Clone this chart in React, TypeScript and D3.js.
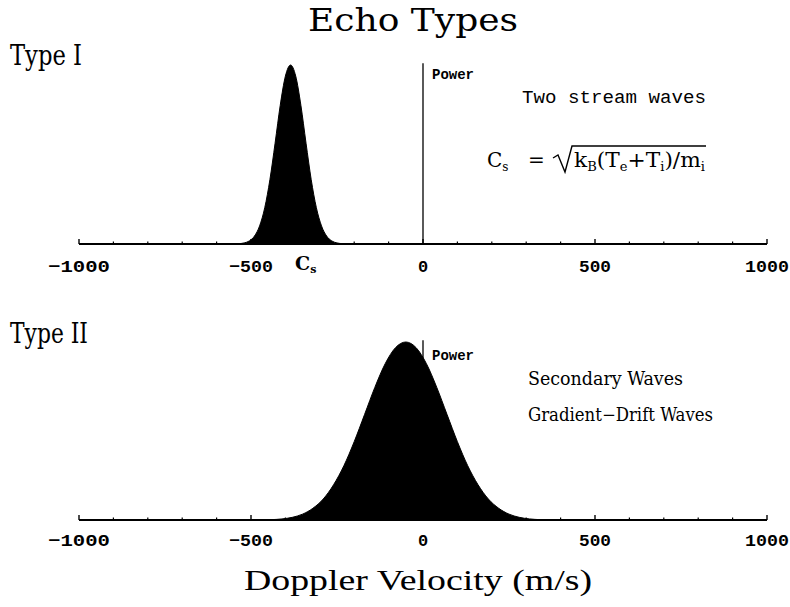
import React from 'react';
import * as d3 from 'd3';

// ---- Data ----
const typeIVelocity = [-535, -520, -505, -490, -475, -460, -445, -430, -415, -400, -385, -370, -355, -340, -325, -310, -295, -280, -265, -250, -235];
const typeIPower = [0.002, 0.006, 0.017, 0.044, 0.101, 0.203, 0.36, 0.563, 0.775, 0.938, 1.0, 0.938, 0.775, 0.563, 0.36, 0.203, 0.101, 0.044, 0.017, 0.006, 0.002];

const typeIIVelocity = [-440, -410, -380, -350, -320, -290, -260, -230, -200, -170, -140, -110, -80, -50, -20, 10, 40, 70, 100, 130, 160, 190, 220, 250, 280, 310, 340];
const typeIIPower = [0.002, 0.006, 0.015, 0.033, 0.066, 0.118, 0.198, 0.305, 0.44, 0.592, 0.745, 0.878, 0.968, 1.0, 0.968, 0.878, 0.745, 0.592, 0.44, 0.305, 0.198, 0.118, 0.066, 0.033, 0.015, 0.006, 0.002];

const majorTicks = [-1000, -500, 0, 500, 1000];
const tickLabels = ['\u22121000', '\u2212500', '0', '500', '1000'];
const tickLabelWidths = [62, 44, 0, 32, 44];
const minorTicks = [-900, -800, -700, -600, -400, -300, -200, -100, 100, 200, 300, 400, 600, 700, 800, 900];

const W = 790;
const H = 607;

const hershey = "'DejaVu Serif Condensed', 'DejaVu Serif', serif";
const mono = "'Liberation Mono', 'DejaVu Sans Mono', monospace";
const serif = "'DejaVu Serif', serif";

type PanelProps = {
  vel: number[];
  pow: number[];
  baseY: number;
  topY: number;
  labelY: number;
  powerLabelY: number;
};

function Panel({ vel, pow, baseY, topY, labelY, powerLabelY }: PanelProps) {
  const x = d3.scaleLinear().domain([-1000, 1000]).range([79, 767]);
  const y = d3.scaleLinear().domain([0, 1]).range([baseY, topY]);
  const pts = vel.map((v, i) => ({ v, p: pow[i] }));
  const area = d3
    .area<{ v: number; p: number }>()
    .x((d) => x(d.v))
    .y0(y(0))
    .y1((d) => y(d.p))
    .curve(d3.curveMonotoneX);
  return (
    <g>
      {/* power axis */}
      <line x1={x(0)} x2={x(0)} y1={y(0)} y2={y(1.01)} stroke="#000" strokeWidth={1.3} />
      <text x={x(0) + 9} y={powerLabelY} fontFamily={mono} fontWeight="bold" fontSize={14}>
        Power
      </text>
      {/* spectrum */}
      <path d={area(pts) || ''} fill="#000" stroke="#000" strokeWidth={1} />
      {/* velocity axis */}
      <line x1={x(-1000)} x2={x(1000)} y1={y(0)} y2={y(0)} stroke="#000" strokeWidth={2} />
      {minorTicks.map((t) => (
        <line key={'m' + t} x1={x(t)} x2={x(t)} y1={y(0)} y2={y(0) - 2.5} stroke="#000" strokeWidth={1.2} />
      ))}
      {majorTicks.map((t, i) => (
        <g key={'M' + t}>
          <line x1={x(t)} x2={x(t)} y1={y(0)} y2={y(0) - 5} stroke="#000" strokeWidth={1.4} />
          <text
            x={x(t)}
            y={labelY}
            textAnchor="middle"
            fontFamily={mono}
            fontWeight="bold"
            fontSize={17}
            textLength={tickLabelWidths[i] || undefined}
            lengthAdjust="spacingAndGlyphs"
          >
            {tickLabels[i]}
          </text>
        </g>
      ))}
    </g>
  );
}

export default function App() {
  return (
    <svg
      width={W}
      height={H}
      viewBox={`0 0 ${W} ${H}`}
      style={{ position: 'absolute', left: 0, top: 0, background: '#fff' }}
    >
      <rect x={0} y={0} width={W} height={H} fill="#fff" />
      <text x={413} y={31} textAnchor="middle" fontFamily={hershey} fontSize={32} textLength={210} lengthAdjust="spacingAndGlyphs">
        Echo Types
      </text>

      {/* Type I panel */}
      <text x={10} y={65} fontFamily={hershey} fontSize={27} textLength={72} lengthAdjust="spacingAndGlyphs">
        Type I
      </text>
      <Panel vel={typeIVelocity} pow={typeIPower} baseY={244} topY={65} labelY={272} powerLabelY={79} />
      <text x={295} y={270} fontFamily={serif} fontWeight="bold" fontSize={19}>
        C<tspan fontSize={11} dy={3}>s</tspan>
      </text>
      <text x={522} y={103} fontFamily={mono} fontSize={19} textLength={184} lengthAdjust="spacingAndGlyphs">
        Two stream waves
      </text>
      {/* formula */}
      <text x={487} y={167} fontFamily={serif} fontSize={20}>
        C<tspan fontSize={12} dy={4}>s</tspan>
      </text>
      <text x={528} y={167} fontFamily={serif} fontSize={20}>
        =
      </text>
      <path d="M553,158 L558,155 L565,172 L572,146 L706,146" fill="none" stroke="#000" strokeWidth={1.4} />
      <text x={574} y={167} fontFamily={serif} fontSize={20} textLength={131} lengthAdjust="spacingAndGlyphs">
        k<tspan fontSize={12} dy={4}>B</tspan>
        <tspan dy={-4}>(T</tspan>
        <tspan fontSize={12} dy={4}>e</tspan>
        <tspan dy={-4}>+T</tspan>
        <tspan fontSize={12} dy={4}>i</tspan>
        <tspan dy={-4}>)/m</tspan>
        <tspan fontSize={12} dy={4}>i</tspan>
      </text>

      {/* Type II panel */}
      <text x={10} y={343} fontFamily={hershey} fontSize={27} textLength={78} lengthAdjust="spacingAndGlyphs">
        Type II
      </text>
      <Panel vel={typeIIVelocity} pow={typeIIPower} baseY={520} topY={342} labelY={546} powerLabelY={360} />
      <text x={528} y={385} fontFamily={hershey} fontSize={18} textLength={155} lengthAdjust="spacingAndGlyphs">
        Secondary Waves
      </text>
      <text x={528} y={421} fontFamily={hershey} fontSize={18} textLength={185} lengthAdjust="spacingAndGlyphs">
        Gradient{'\u2212'}Drift Waves
      </text>

      <text x={418} y={590} textAnchor="middle" fontFamily="'Liberation Serif', serif" fontSize={30} textLength={348} lengthAdjust="spacingAndGlyphs">
        Doppler Velocity (m/s)
      </text>
    </svg>
  );
}
